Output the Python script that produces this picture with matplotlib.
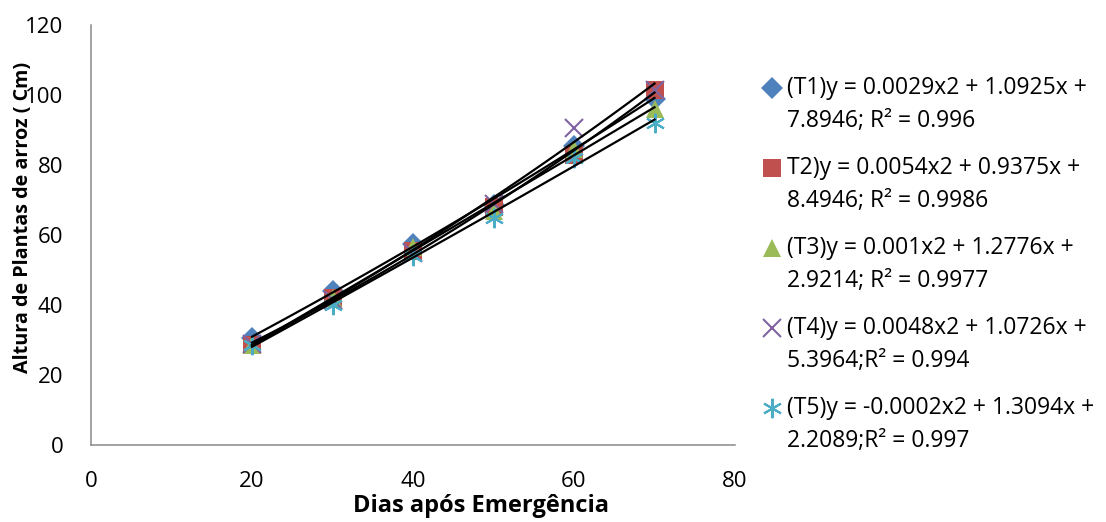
import numpy as np
import matplotlib
matplotlib.use("Agg")
from matplotlib import pyplot as plt
from matplotlib.lines import Line2D

# days after emergence
dias = [20, 30, 40, 50, 60, 70]

# plant height (cm) per treatment
t1 = [30.6, 44.0, 57.5, 68.5, 85.5, 99.0]
t2 = [28.6, 42.0, 55.5, 68.0, 83.0, 101.5]
t3 = [28.5, 42.0, 56.5, 67.0, 84.5, 96.0]
t4 = [29.0, 41.5, 55.0, 69.0, 90.5, 101.5]
t5 = [28.5, 40.0, 54.0, 65.0, 82.0, 92.0]

labels = [
    ("(T1)y = 0.0029x2 + 1.0925x +", "7.8946; R\u00b2 = 0.996"),
    ("T2)y = 0.0054x2 + 0.9375x +", "8.4946; R\u00b2 = 0.9986"),
    ("(T3)y = 0.001x2 + 1.2776x +", "2.9214; R\u00b2 = 0.9977"),
    ("(T4)y = 0.0048x2 + 1.0726x +", "5.3964;R\u00b2 = 0.994"),
    ("(T5)y = -0.0002x2 + 1.3094x +", "2.2089;R\u00b2 = 0.997"),
]

series = [t1, t2, t3, t4, t5]
colors = ["#4F81BD", "#C0504D", "#9BBB59", "#8064A2", "#4BACC6"]
markers = ["D", "s", "^", "x", (6, 2, 0)]
msizes = [11, 13, 13, 13, 14]

plt.rcParams["font.family"] = ["Open Sans", "DejaVu Sans"]
fs = 16
fs_leg = 16.5

fig = plt.figure(figsize=(11.06, 5.22), dpi=100)
ax = fig.add_axes([91 / 1106, 1 - 445 / 522, (735 - 91) / 1106, (445 - 25) / 522])

for ys, c, m, ms in zip(series, colors, markers, msizes):
    filled = m not in ("x",) and not isinstance(m, tuple)
    ax.plot(dias, ys, linestyle="none", marker=m, markersize=ms,
            color=c, markeredgewidth=1.5 if not filled else 0, zorder=3)

# quadratic trend lines
xs = np.linspace(dias[0], dias[-1], 50)
for ys in series:
    coef = np.polyfit(dias, ys, 2)
    ax.plot(xs, np.polyval(coef, xs), color="black", linewidth=1.6, zorder=4)

ax.set_xlim(0, 80)
ax.set_ylim(0, 120)
ax.set_xticks(range(0, 81, 20))
ax.set_yticks(range(0, 121, 20))
ax.tick_params(length=0, labelsize=fs, colors="black")
ax.tick_params(axis="y", pad=20)
ax.tick_params(axis="x", pad=19)
for s in ["top", "right"]:
    ax.spines[s].set_visible(False)
for s in ["left", "bottom"]:
    ax.spines[s].set_color("#898989")
    ax.spines[s].set_linewidth(1.1)

fig.text(23 / 1106, 1 - 217 / 522, "Altura de Plantas de arroz ( Cm)", rotation=90,
         ha="center", va="center", fontsize=14.2, fontweight="bold")
fig.text(481 / 1106, 1 - 506 / 522, "Dias após Emergência",
         ha="center", va="center", fontsize=17, fontweight="bold")

# legend drawn by hand so the marker sits on the first line
for i, ((l1, l2), c, m, ms) in enumerate(zip(labels, colors, markers, msizes)):
    y1 = 88 + 80 * i
    filled = m not in ("x",) and not isinstance(m, tuple)
    fig.add_artist(Line2D([772 / 1106], [1 - y1 / 522], linestyle="none", marker=m,
                          markersize=ms, color=c,
                          markeredgewidth=1.5 if not filled else 0))
    fig.text(787 / 1106, 1 - y1 / 522, l1, ha="left", va="center", fontsize=fs_leg)
    fig.text(787 / 1106, 1 - (y1 + 33) / 522, l2, ha="left", va="center", fontsize=fs_leg)

fig.savefig("out.png", dpi=100)
